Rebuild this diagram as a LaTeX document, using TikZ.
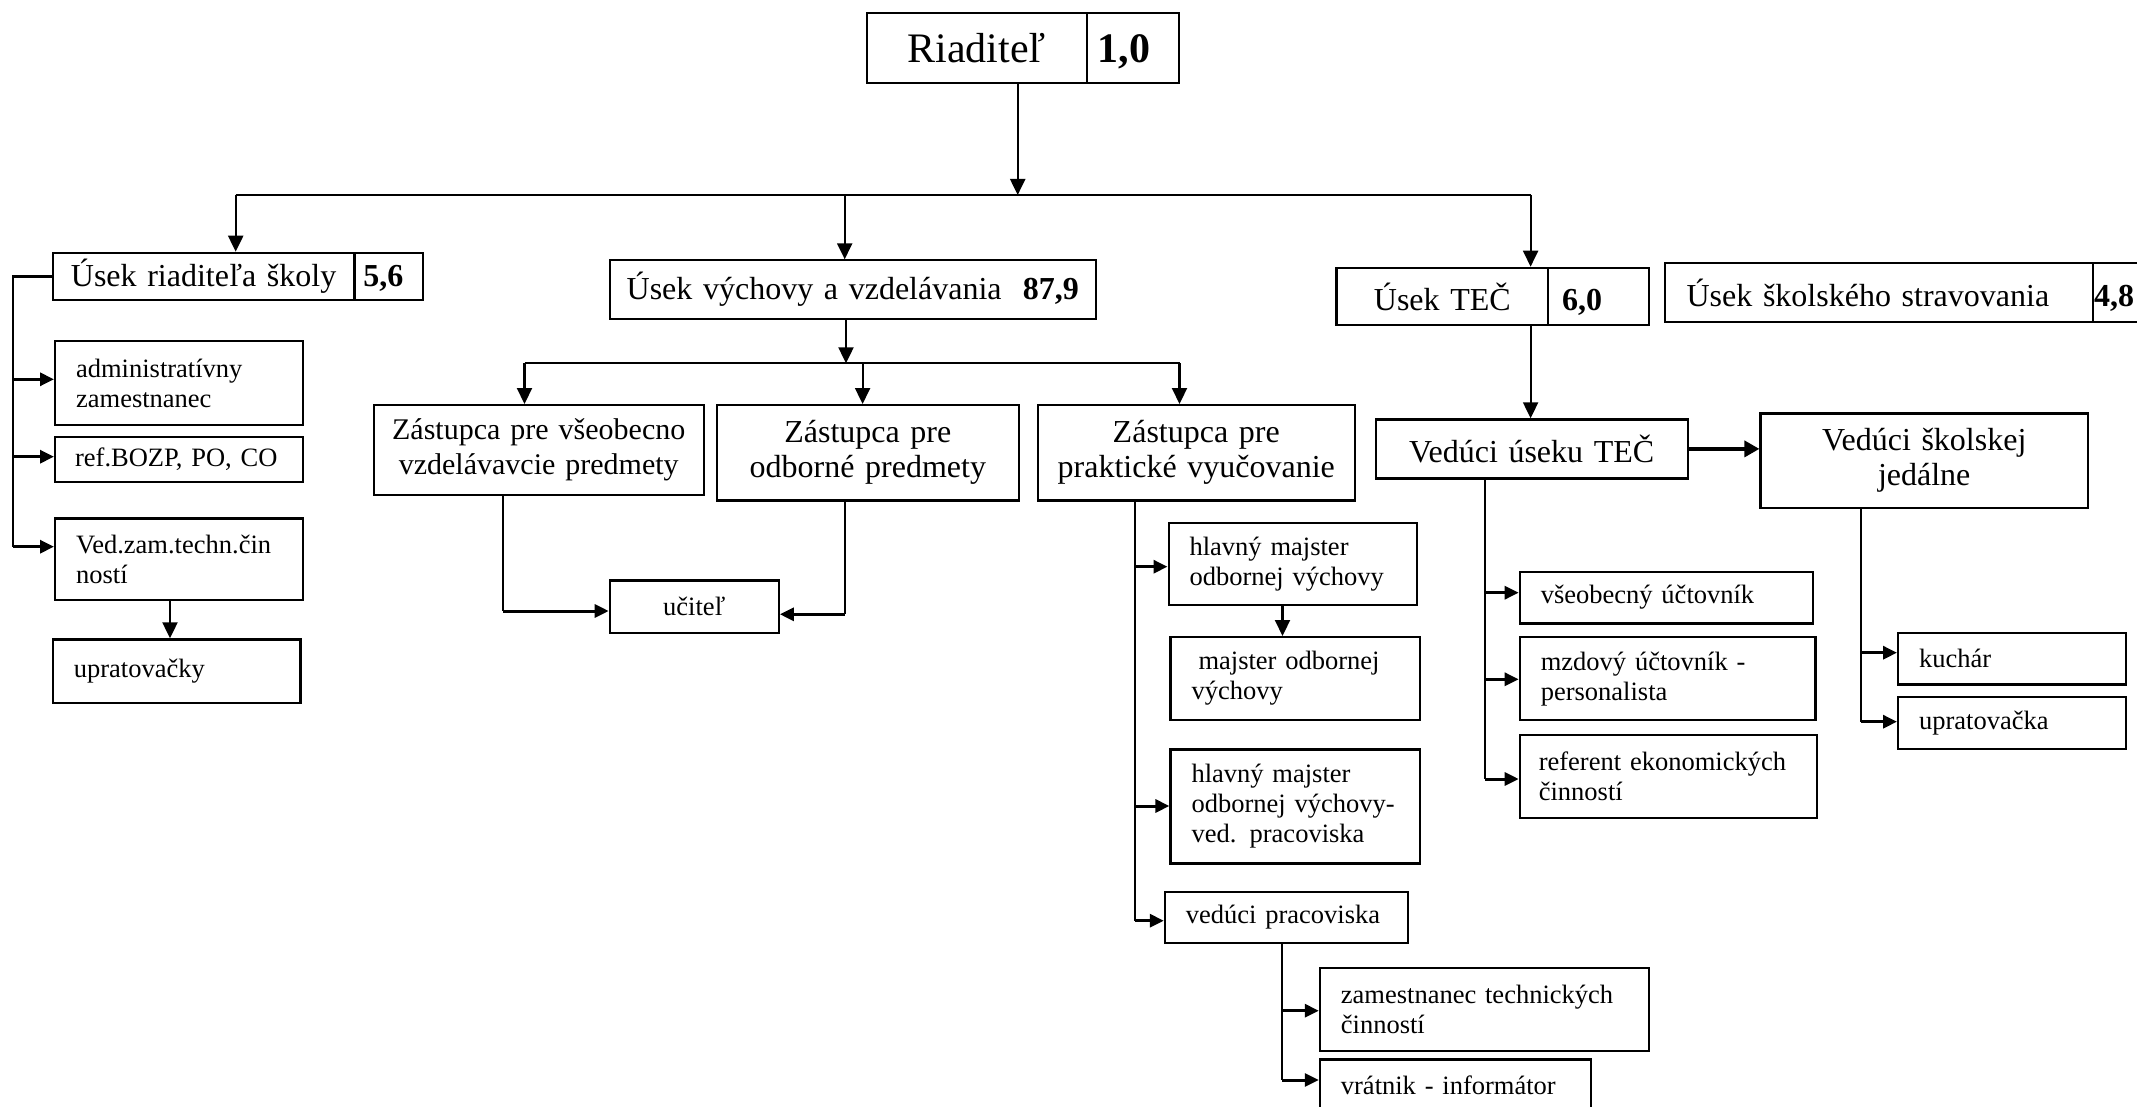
\documentclass[tikz,border=0pt]{standalone}
\usepackage{fontspec}
\setmainfont{Liberation Serif}
\usetikzlibrary{arrows.meta}
\tikzset{
  bx/.style={draw, line width=2.2pt, rectangle, anchor=north west, inner xsep=0pt, inner ysep=0pt, font=\fontsize{32}{35}\selectfont},
  sm/.style={font=\fontsize{26.5}{30}\selectfont},
  nb/.style={font=\fontsize{32}{35}\selectfont\bfseries},
  ln/.style={line width=2.2pt},
  arr/.style={line width=2.2pt, -{Triangle[length=16pt,width=15pt]}},
  sarr/.style={line width=3pt, -{Triangle[length=14pt,width=13pt]}},
}
\newcommand\cbox[7]{%
  \pgfmathsetmacro\bw{#4-#2}\pgfmathsetmacro\bh{#5-#3}%
  \node[bx, minimum width=\bw pt, minimum height=\bh pt, text width=\bw pt, align=center, #6] (#1) at (#2,#3) {#7};}
\newcommand\lbox[8][21]{%
  \pgfmathsetmacro\bw{#5-#3}\pgfmathsetmacro\bh{#6-#4}\pgfmathsetmacro\tw{#5-#3-2*#1}%
  \node[bx, inner xsep=#1pt, minimum width=\bw pt, minimum height=\bh pt, text width=\tw pt, align=left, #7] (#2) at (#3,#4) {#8};}
% number set on the same baseline as its neighbour: #1 = phantom, #2 = number
\newcommand\numtxt[2]{\raisebox{0pt}[0pt][0pt]{#2}\vphantom{#1}}
\begin{document}
\begin{tikzpicture}[x=1pt,y=-1pt]
\useasboundingbox (0,0) rectangle (2137,1107);
% top
\cbox{ria}{865.7}{11.7}{1085.7}{81.7}{font=\fontsize{42}{46}\selectfont}{Riaditeľ}
\lbox[11]{riaN}{1085.7}{11.7}{1178}{81.7}{font=\fontsize{42}{46}\selectfont\bfseries}{\numtxt{\mdseries Riaditeľ}{1,0}}
% sections
\cbox{ur}{51.7}{251.7}{353.3}{299}{}{Úsek riaditeľa školy}
\lbox[9]{urN}{353.3}{251.7}{421.7}{299}{nb}{\numtxt{\mdseries Úy}{5,6}}
\cbox{uv}{608.7}{259.3}{1094.7}{317.7}{}{Úsek výchovy a vzdelávania\ \ \textbf{87,9}}
\cbox{ut}{1335.4}{266.7}{1547.1}{324.3}{}{Úsek TEČ}
\lbox[14]{utN}{1547.1}{266.7}{1647.6}{324.3}{nb}{\numtxt{\mdseries Ú}{6,0}}
\lbox[22]{us}{1663.5}{262.3}{2092}{320.7}{}{Úsek školského stravovania}
\lbox[1]{usN}{2092}{262.3}{2145}{320.7}{nb}{\numtxt{\mdseries Ú}{4,8}}
% left column
\lbox{adm}{54}{340}{301.7}{424}{sm}{administratívny\\zamestnanec}
\lbox[20]{bozp}{54}{435.7}{301.7}{481}{sm}{ref.BOZP, PO, CO}
\lbox{ved}{54}{517.3}{301.7}{599}{sm}{Ved.zam.techn.čin\\ností}
\lbox{upr}{51.7}{638.3}{299.3}{701.7}{sm}{upratovačky}
% deputies
\cbox{z1}{372.8}{404}{702.5}{494}{font=\fontsize{30}{35}\selectfont}{Zástupca pre všeobecno\\vzdelávavcie predmety}
\cbox{z2}{715.9}{404}{1017.5}{499.3}{}{Zástupca pre\\odborné predmety}
\cbox{z3}{1036.7}{404}{1353.6}{499.3}{}{Zástupca pre\\praktické vyučovanie}
\cbox{uc}{608.7}{579.3}{777.7}{631.7}{sm}{učiteľ}
% practical
\lbox{hm1}{1167.5}{521.7}{1416.1}{604}{sm}{hlavný majster\\odbornej výchovy}
\lbox{mo}{1169.4}{636}{1418.8}{719}{sm}{\hspace*{7pt}majster odbornej\\výchovy}
\lbox{hm2}{1169.4}{748.3}{1418.8}{862.3}{sm}{hlavný majster\\odbornej výchovy-\\ved. pracoviska}
\lbox{vp}{1163.8}{890.7}{1407.1}{942}{sm}{vedúci pracoviska}
\lbox{zt}{1318.8}{967}{1647.8}{1049.7}{sm}{zamestnanec technických\\činností}
\lbox{vr}{1318.8}{1058.3}{1590.2}{1110}{sm}{vrátnik - informátor}
% TEC
\cbox{vt}{1374.5}{418.3}{1686.6}{477.3}{}{Vedúci úseku TEČ}
\cbox{vj}{1759.4}{412.3}{2086.8}{506.7}{}{Vedúci školskej\\jedálne}
\lbox{vu}{1518.7}{570.7}{1811.6}{622.3}{sm}{všeobecný účtovník}
\lbox{mz}{1518.7}{636}{1814.3}{719}{sm}{mzdový účtovník -\\personalista}
\lbox[19]{re}{1518.7}{734}{1815.6}{816.7}{sm}{referent ekonomických\\činností}
\lbox{ku}{1897}{631.7}{2125}{683.3}{sm}{kuchár}
\lbox{up2}{1897}{696}{2125}{747.7}{sm}{upratovačka}
% --- connectors ---
\coordinate (rb) at (1017.7,195);
\coordinate (bL) at (235.7,195);
\coordinate (bM) at (844.7,195);
\coordinate (bR) at (1530.6,195);
\draw[arr] (ria.south -| rb) -- (rb);
\draw[ln] (bL) -- (bR);
\draw[arr] (bL) -- (bL |- ur.north);
\draw[arr] (bM) -- (bM |- uv.north);
\draw[arr] (bR) -- (bR |- ut.north);
\draw[arr] (ut.south -| bR) -- (vt.north -| bR);
% left
\coordinate (la1) at (13.3,379.3);
\coordinate (la2) at (13.3,456.7);
\coordinate (la3) at (13.3,546.7);
\draw[ln] (ur.west) -| (la3);
\draw[sarr] (la1) -- (la1 -| adm.west);
\draw[sarr] (la2) -- (la2 -| bozp.west);
\draw[sarr] (la3) -- (la3 -| ved.west);
\coordinate (vx) at (170,600);
\draw[arr] (ved.south -| vx) -- (upr.north -| vx);
% middle
\coordinate (m0) at (846,363.3);
\coordinate (mL) at (524.5,363.3);
\coordinate (mC) at (862.6,363.3);
\coordinate (mR) at (1179.5,363.3);
\draw[arr] (uv.south -| m0) -- (m0);
\draw[ln] (mL) -- (mR);
\draw[arr] (mL) -- (mL |- z1.north);
\draw[arr] (mC) -- (mC |- z2.north);
\draw[arr] (mR) -- (mR |- z3.north);
\coordinate (c1) at (502.9,611);
\coordinate (c2) at (844.7,614.3);
\draw[ln] (z1.south -| c1) -- (c1);
\draw[sarr] (c1) -- (c1 -| uc.west);
\draw[ln] (z2.south -| c2) -- (c2);
\draw[sarr] (c2) -- (c2 -| uc.east);
% practical
\coordinate (p1) at (1135,566.7);
\coordinate (p2) at (1135,806);
\coordinate (p3) at (1135,920.7);
\draw[ln] (z3.south -| p3) -- (p3);
\draw[sarr] (p1) -- (p1 -| hm1.west);
\draw[sarr] (p2) -- (p2 -| hm2.west);
\draw[sarr] (p3) -- (p3 -| vp.west);
\coordinate (q) at (1282.5,610);
\draw[arr] (hm1.south -| q) -- (mo.north -| q);
\coordinate (f1) at (1282.1,1010.7);
\coordinate (f2) at (1282.1,1080);
\draw[ln] (vp.south -| f2) -- (f2);
\draw[sarr] (f1) -- (f1 -| zt.west);
\draw[sarr] (f2) -- (f2 -| vr.west);
% TEC
\coordinate (t1) at (1484.9,592.7);
\coordinate (t2) at (1484.9,679.3);
\coordinate (t3) at (1484.9,779);
\draw[ln] (vt.south -| t3) -- (t3);
\draw[sarr] (t1) -- (t1 -| vu.west);
\draw[sarr] (t2) -- (t2 -| mz.west);
\draw[sarr] (t3) -- (t3 -| re.west);
\draw[line width=3.5pt, -{Triangle[length=15pt,width=16pt]}] (vt.east) -- (vt.east -| vj.west);
\coordinate (j1) at (1860.6,652.7);
\coordinate (j2) at (1860.6,721.7);
\draw[ln] (vj.south -| j2) -- (j2);
\draw[sarr] (j1) -- (j1 -| ku.west);
\draw[sarr] (j2) -- (j2 -| up2.west);
\end{tikzpicture}
\end{document}
